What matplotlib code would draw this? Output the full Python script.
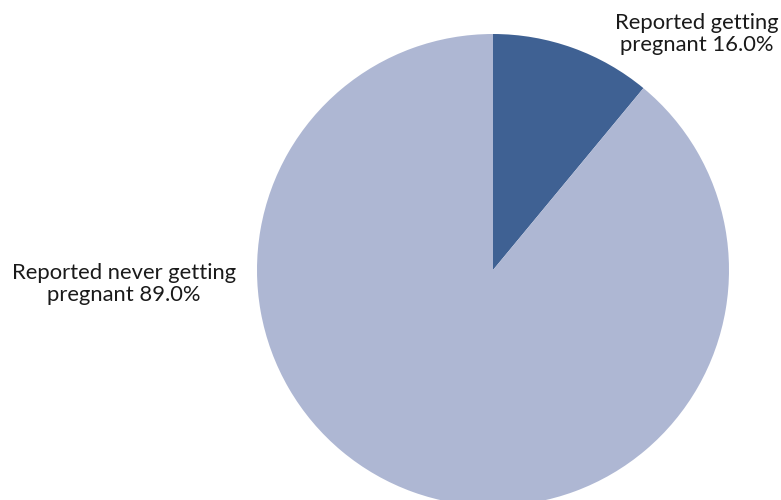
import matplotlib
matplotlib.use("Agg")
import matplotlib.pyplot as plt

categories = ["Reported getting\npregnant", "Reported never getting\npregnant"]
wedge_values = [11.0, 89.0]
label_pcts = [16.0, 89.0]
colors = ["#3F6193", "#AEB7D3"]

plt.rcParams['font.family'] = ['Lato', 'DejaVu Sans']

fig = plt.figure(figsize=(7.81, 5.0), dpi=100)
ax = fig.add_axes([0, 0, 1, 1])
wedges, _ = ax.pie(wedge_values, colors=colors, startangle=90, counterclock=False,
                   radius=1.0, center=(0, 0), wedgeprops=dict(linewidth=0))

scale = 236.0
cx, cy = 493.0, 270.0
ax.set_xlim(-cx / scale, (781 - cx) / scale)
ax.set_ylim(-(500 - cy) / scale, cy / scale)
ax.set_aspect('auto')
ax.axis('off')

label_pos = [(697, 34), (124, 284)]
for cat, pct, (px, py) in zip(categories, label_pcts, label_pos):
    ax.text((px - cx) / scale, (cy - py) / scale, f"{cat} {pct:.1f}%", ha='center',
            va='center', fontsize=15.8, color='#1a1a1a', linespacing=1.1)

fig.savefig("out.png", dpi=100)
